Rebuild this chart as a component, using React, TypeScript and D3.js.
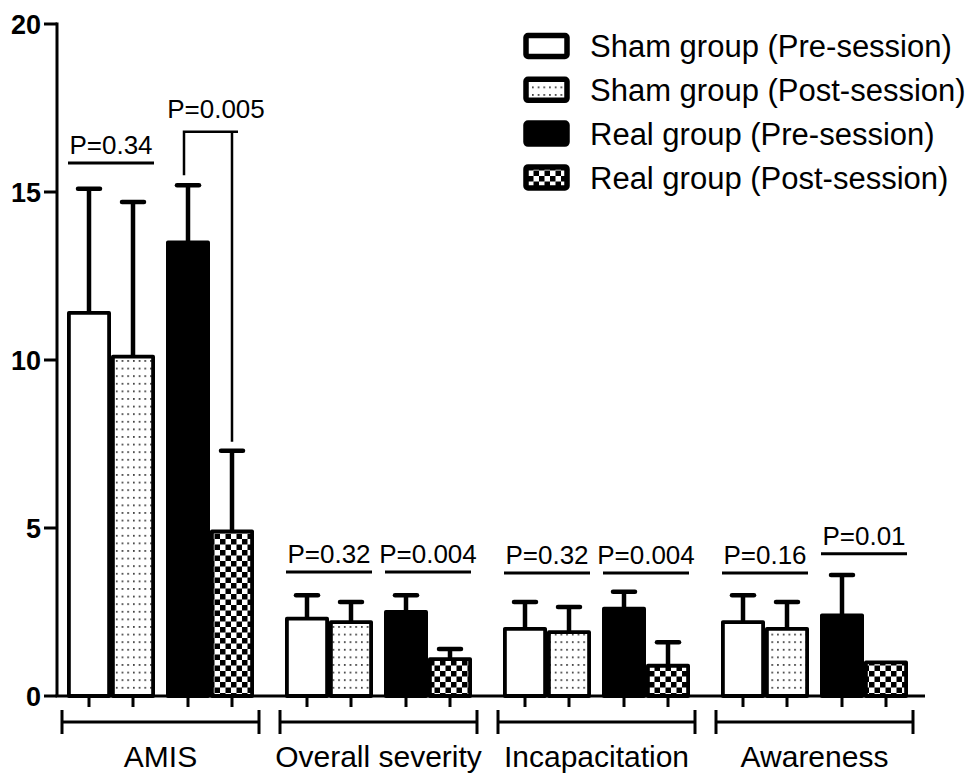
import React from "react";
import * as d3 from "d3";

// chart values
const categories = ["AMIS", "Overall severity", "Incapacitation", "Awareness"];
const seriesNames = [
  "Sham group (Pre-session)",
  "Sham group (Post-session)",
  "Real group (Pre-session)",
  "Real group (Post-session)",
];
const seriesPair = ["Sham", "Sham", "Real", "Real"];
const seriesSession = ["Pre", "Post", "Pre", "Post"];
const seriesFill = ["#fff", "url(#dots)", "#000", "url(#checker)"];

const shamPre = [11.4, 2.3, 2.0, 2.2];
const shamPreSD = [3.7, 0.7, 0.8, 0.8];
const shamPost = [10.1, 2.2, 1.9, 2.0];
const shamPostSD = [4.6, 0.6, 0.75, 0.8];
const realPre = [13.5, 2.5, 2.6, 2.4];
const realPreSD = [1.7, 0.5, 0.5, 1.2];
const realPost = [4.9, 1.1, 0.9, 1.0];
const realPostSD = [2.4, 0.3, 0.7, 0];

const means = [shamPre, shamPost, realPre, realPost];
const sds = [shamPreSD, shamPostSD, realPreSD, realPostSD];

const yTicks = [0, 5, 10, 15, 20];

// significance annotations
const pCategory = ["AMIS", "AMIS", "Overall severity", "Overall severity", "Incapacitation", "Incapacitation", "Awareness", "Awareness"];
const pPair = ["Sham", "Real", "Sham", "Real", "Sham", "Real", "Sham", "Real"];
const pLabel = ["P=0.34", "P=0.005", "P=0.32", "P=0.004", "P=0.32", "P=0.004", "P=0.16", "P=0.01"];
const pLevel = [15.86, 16.79, 3.69, 3.69, 3.66, 3.66, 3.66, 4.23];
const pKind = ["line", "bracket", "line", "line", "line", "line", "line", "line"];

const W = 976, H = 778;
const axisX = 57;
const font = "'Liberation Sans', Arial, sans-serif";

export default function App() {
  const y = d3.scaleLinear().domain([0, 20]).range([696, 24]);
  const x = d3.scaleBand().domain(categories).range([51.5, 923.5]).padding(0);
  const pairScale = d3.scaleBand().domain(["Sham", "Real"]).range([-99, 99]);
  const sessScale = d3.scaleBand().domain(["Pre", "Post"]).range([-44, 44]);

  const gc = (c: string) => (x(c) as number) + x.bandwidth() / 2;
  const pc = (p: string) => (pairScale(p) as number) + pairScale.bandwidth() / 2;
  const sc = (s: string) => (sessScale(s) as number) + sessScale.bandwidth() / 2;
  const barCenter = (c: string, i: number) => gc(c) + pc(seriesPair[i]) + sc(seriesSession[i]);

  const bw = sessScale.bandwidth();
  const sw = 3.8;
  const y0 = y(0);

  const bars: any[] = [];
  categories.forEach((c, ci) => {
    seriesNames.forEach((s, si) => {
      bars.push({ c, ci, si, v: means[si][ci], sd: sds[si][ci], cx: barCenter(c, si) });
    });
  });

  return (
    <svg width={W} height={H} style={{ position: "absolute", left: 0, top: 0, background: "#fff" }} fontFamily={font}>
      <defs>
        <pattern id="dots" width={5.7} height={7.6} patternUnits="userSpaceOnUse">
          <rect width={5.7} height={7.6} fill="#fff" />
          <rect x={2} y={3} width={1.5} height={1.5} fill="#000" />
        </pattern>
        <pattern id="checker" width={11} height={11} patternUnits="userSpaceOnUse">
          <rect width={11} height={11} fill="#fff" />
          <rect width={5.5} height={5.5} fill="#000" />
          <rect x={5.5} y={5.5} width={5.5} height={5.5} fill="#000" />
        </pattern>
      </defs>

      {/* error bars (behind bars) */}
      {bars.filter(b => b.sd > 0).map((b, i) => (
        <g key={"e" + i} stroke="#000">
          <line x1={b.cx} x2={b.cx} y1={y(b.v)} y2={y(b.v + b.sd)} strokeWidth={4.5} />
          <line x1={b.cx - 11} x2={b.cx + 11} y1={y(b.v + b.sd)} y2={y(b.v + b.sd)} strokeWidth={4.5} strokeLinecap="round" />
        </g>
      ))}

      {/* bars */}
      {bars.map((b, i) => (
        <rect key={"b" + i}
          x={b.cx - bw / 2 + sw / 2} width={bw - sw}
          y={y(b.v)} height={y0 - y(b.v)}
          fill={seriesFill[b.si]} stroke="#000" strokeWidth={sw} strokeLinejoin="round" />
      ))}

      {/* y axis */}
      <line x1={axisX} x2={axisX} y1={y(20) - 1.5} y2={y0} stroke="#000" strokeWidth={3} />
      {yTicks.map(t => (
        <g key={"yt" + t}>
          <line x1={axisX - 13} x2={axisX} y1={y(t)} y2={y(t)} stroke="#000" strokeWidth={3} />
          <text x={41} y={y(t)} dy="0.36em" textAnchor="end" fontWeight="bold" fontSize={27}>{t}</text>
        </g>
      ))}

      {/* x axis */}
      <line x1={axisX - 1.5} x2={925} y1={y0} y2={y0} stroke="#000" strokeWidth={3} />
      {bars.map((b, i) => (
        <line key={"xt" + i} x1={b.cx} x2={b.cx} y1={y0} y2={y0 + 11} stroke="#000" strokeWidth={3} />
      ))}
      {categories.map(c => {
        const x0 = (x(c) as number) + 10.5;
        const x1 = (x(c) as number) + x.bandwidth() - 10.5;
        return (
          <g key={"g" + c} stroke="#000" strokeWidth={3}>
            <line x1={x0} x2={x1} y1={722} y2={722} />
            <line x1={x0} x2={x0} y1={710} y2={734} />
            <line x1={x1} x2={x1} y1={710} y2={734} />
            <text x={gc(c)} y={767} textAnchor="middle" fontSize={30} stroke="none" fill="#000">{c}</text>
          </g>
        );
      })}

      {/* p-value annotations */}
      {pLabel.map((lab, i) => {
        const c = pCategory[i];
        const ci = categories.indexOf(c);
        const center = gc(c) + pc(pPair[i]);
        const ly = y(pLevel[i]);
        if (pKind[i] === "bracket") {
          const si0 = seriesPair.indexOf(pPair[i]);
          const si1 = si0 + 1;
          const xa = barCenter(c, si0) - 4, xb = barCenter(c, si1);
          const ya = y(means[si0][ci] + sds[si0][ci]) - 10;
          const yb = y(means[si1][ci] + sds[si1][ci]) - 9;
          return (
            <g key={"p" + i}>
              <path d={`M${xa},${ya}V${ly}H${xb + 6}M${xb},${ly}V${yb}`} fill="none" stroke="#000" strokeWidth={2.5} />
              <text x={center + 6} y={ly - 14} textAnchor="middle" fontSize={26}>{lab}</text>
            </g>
          );
        }
        return (
          <g key={"p" + i}>
            <line x1={center - 43} x2={center + 43} y1={ly} y2={ly} stroke="#000" strokeWidth={3} />
            <text x={center} y={ly - 9} textAnchor="middle" fontSize={26}>{lab}</text>
          </g>
        );
      })}

      {/* legend */}
      {seriesNames.map((s, i) => {
        const cy = 46 + i * 43.8;
        return (
          <g key={"l" + i}>
            <rect x={526} y={cy - 10.5} width={41} height={21} rx={2}
              fill={seriesFill[i]} stroke="#000" strokeWidth={5.5} />
            <text x={590} y={cy} dy="0.36em" fontSize={31}>{s}</text>
          </g>
        );
      })}
    </svg>
  );
}
